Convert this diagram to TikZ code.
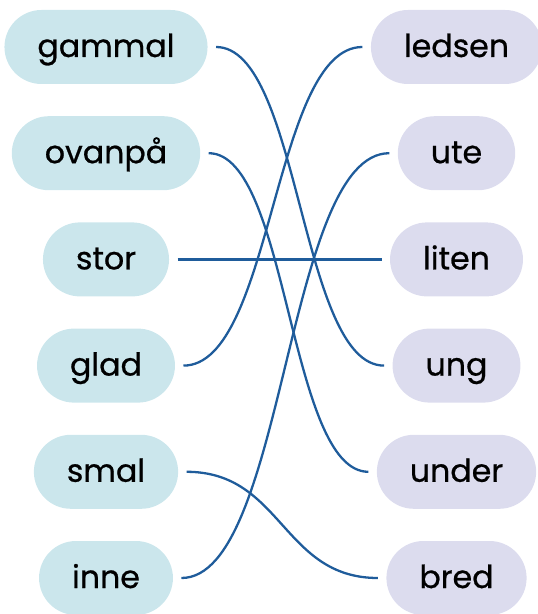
\documentclass[tikz,border=0pt]{standalone}
\usepackage{fontspec}
\setmainfont{Poppins}[FakeBold=0.7]
\usetikzlibrary{calc}
\definecolor{leftfill}{HTML}{CBE6EC}
\definecolor{rightfill}{HTML}{DCDCEE}
\definecolor{linkblue}{HTML}{1F5C9B}
\tikzset{
  pill/.style={rounded corners=0.74cm, minimum height=1.48cm, inner xsep=0.66cm,
    text height=0.5cm, text depth=0.1cm,
    outer sep=0.17cm, text=black, font=\fontsize{18}{22}\selectfont},
  leftpill/.style={pill, fill=leftfill},
  rightpill/.style={pill, fill=rightfill},
  link/.style={to path={.. controls ($(\tikztostart)!0.5!(\tikztotarget |- \tikztostart)$)
    and ($(\tikztotarget)!0.5!(\tikztostart |- \tikztotarget)$) .. (\tikztotarget)}}
}
\begin{document}
\begin{tikzpicture}
  \useasboundingbox (0,0) rectangle (10.74,-12.28);
  % left column
  \node[leftpill] (gammal) at (2.12,-0.94) {gammal};
  \node[leftpill] (ovanpa) at (2.12,-3.064) {ovanpå};
  \node[leftpill] (stor) at (2.12,-5.188) {stor};
  \node[leftpill] (glad) at (2.12,-7.312) {glad};
  \node[leftpill] (smal) at (2.12,-9.436) {smal};
  \node[leftpill] (inne) at (2.12,-11.56) {inne};
  % right column
  \node[rightpill] (ledsen) at (9.13,-0.94) {ledsen};
  \node[rightpill] (ute) at (9.13,-3.064) {ute};
  \node[rightpill] (liten) at (9.13,-5.188) {liten};
  \node[rightpill] (ung) at (9.13,-7.312) {ung};
  \node[rightpill] (under) at (9.13,-9.436) {under};
  \node[rightpill] (bred) at (9.13,-11.56) {bred};
  \begin{scope}[draw=linkblue, line width=1.3pt]
    \draw (gammal.east) to[link] (ung.west);
    \draw (ovanpa.east) to[link] (under.west);
    \draw (stor.east) -- (liten.west);
    \draw (glad.east) to[link] (ledsen.west);
    \draw (smal.east) to[link] (bred.west);
    \draw (inne.east) to[link] (ute.west);
  \end{scope}
\end{tikzpicture}
\end{document}
